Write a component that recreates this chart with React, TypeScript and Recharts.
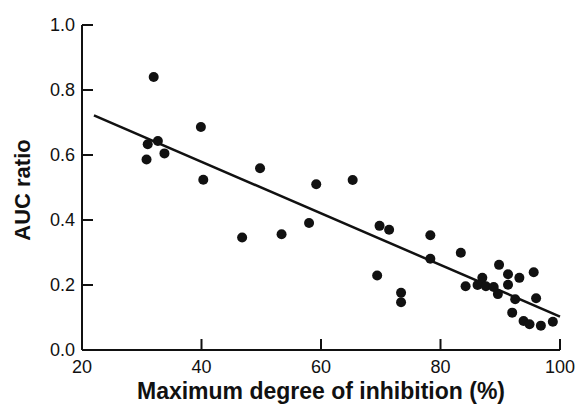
import { Scatter, ScatterChart, XAxis, YAxis } from "recharts";

const inhibition = [
  32.0, 31.0, 32.7, 30.8, 33.8, 39.9, 40.3, 49.8, 46.8, 53.4, 59.2, 58.0, 65.3,
  69.8, 71.4, 69.4, 73.4, 73.4, 78.3, 78.3, 83.4, 84.2, 87.0, 86.2, 87.6, 88.9,
  89.6, 89.8, 91.3, 91.3, 93.2, 95.6, 92.5, 96.0, 92.0, 93.9, 94.9, 96.8, 98.8,
];
const aucRatio = [
  0.84, 0.633, 0.643, 0.586, 0.605, 0.686, 0.524, 0.559, 0.346, 0.356, 0.51,
  0.391, 0.523, 0.382, 0.37, 0.229, 0.176, 0.147, 0.353, 0.281, 0.299, 0.196,
  0.222, 0.2, 0.196, 0.194, 0.172, 0.262, 0.233, 0.201, 0.222, 0.239, 0.156,
  0.159, 0.115, 0.089, 0.079, 0.075, 0.087,
];
const fitX = [22, 100];
const fitY = [0.722, 0.103];

const xTicks = [20, 40, 60, 80, 100];
const yTicks = [0, 0.2, 0.4, 0.6, 0.8, 1.0];

const points = inhibition.map((x, i) => ({ x, y: aucRatio[i] }));
const fit = fitX.map((x, i) => ({ x, y: fitY[i] }));
// tick marks point into the plot, so they are drawn as tiny marks at the axis positions
const xTickMarks = xTicks.slice(1).map((x) => ({ x, y: 0 }));
const yTickMarks = yTicks.slice(1).map((y) => ({ x: 20, y }));

const font = '"Liberation Sans", Arial, Helvetica, sans-serif';
const ink = "#111";

const YTick = (props: any) => (
  <text x={Number(props.x)} y={Number(props.y)} textAnchor="end" dominantBaseline="central" fontSize={18} fill={ink} fontFamily={font}>
    {Number(props.payload.value).toFixed(1)}
  </text>
);

const XTick = (props: any) => (
  <text x={Number(props.x)} y={Number(props.y)} dy="0.71em" textAnchor="middle" fontSize={18} fill={ink} fontFamily={font}>
    {props.payload.value}
  </text>
);

const title = { position: "absolute", fontFamily: font, fontWeight: 700, color: ink, whiteSpace: "nowrap" } as const;

export default function App() {
  return (
    <div style={{ position: "absolute", left: 0, top: 0, width: 578, height: 405, background: "#fff" }}>
      <ScatterChart width={578} height={405} margin={{ top: 25, right: 18, left: 22, bottom: 0 }}>
        <XAxis
          dataKey="x"
          type="number"
          domain={[20, 100]}
          ticks={xTicks}
          stroke={ink}
          strokeWidth={2}
          tickSize={0}
          tickMargin={10}
          tickLine={false}
          tick={(p: any) => <XTick {...p} />}
          height={55}
        />
        <YAxis
          dataKey="y"
          type="number"
          domain={[0, 1]}
          ticks={yTicks}
          stroke={ink}
          strokeWidth={2}
          tickSize={0}
          tickMargin={7}
          tickLine={false}
          tick={(p: any) => <YTick {...p} />}
          width={60}
        />
        <Scatter
          data={xTickMarks}
          shape={(p: any) => (
            <line x1={p.cx} x2={p.cx} y1={p.cy} y2={p.cy - 11} stroke={ink} strokeWidth={2} />
          )}
          isAnimationActive={false}
        />
        <Scatter
          data={yTickMarks}
          shape={(p: any) => (
            <line x1={p.cx} x2={p.cx + 11} y1={p.cy} y2={p.cy} stroke={ink} strokeWidth={2} />
          )}
          isAnimationActive={false}
        />
        <Scatter
          data={fit}
          line={{ stroke: ink, strokeWidth: 2.5 }}
          shape={() => <g />}
          isAnimationActive={false}
        />
        <Scatter
          data={points}
          shape={(p: any) => <circle cx={p.cx} cy={p.cy} r={5} fill={ink} />}
          isAnimationActive={false}
        />
      </ScatterChart>
      <div style={{ ...title, left: 82, width: 478, top: 380, fontSize: 23, lineHeight: "23px", textAlign: "center" }}>
        Maximum degree of inhibition (%)
      </div>
      <div
        style={{
          ...title,
          left: 23,
          top: 190,
          fontSize: 22,
          lineHeight: "22px",
          transform: "translate(-50%, -50%) rotate(-90deg)",
        }}
      >
        AUC ratio
      </div>
    </div>
  );
}
